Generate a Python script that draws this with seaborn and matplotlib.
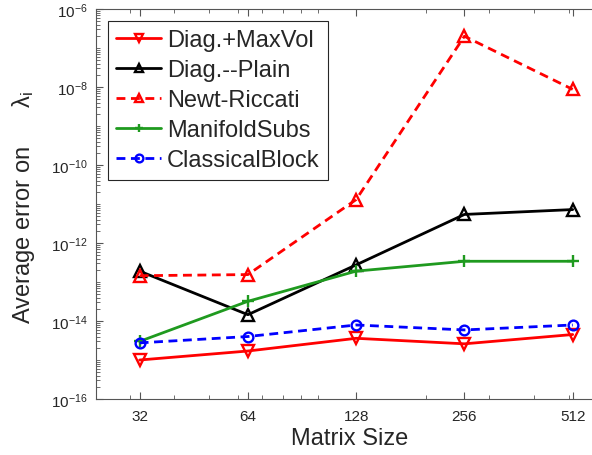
import matplotlib
matplotlib.use("Agg")
import numpy as np
import pandas as pd
import matplotlib.pyplot as plt
import matplotlib.ticker as mticker
import seaborn as sns

# data
sizes = [32, 64, 128, 256, 512]
maxvol = [1.0e-15, 1.7e-15, 3.6e-15, 2.6e-15, 4.5e-15]
plain = [1.9e-13, 1.45e-14, 2.75e-13, 5.4e-12, 7.2e-12]
riccati = [1.45e-13, 1.55e-13, 1.3e-11, 2.0e-7, 8.7e-9]
manifold = [3.0e-15, 3.2e-14, 1.9e-13, 3.4e-13, 3.4e-13]
classical = [2.75e-15, 4.0e-15, 7.9e-15, 5.9e-15, 7.9e-15]
labels = ["Diag.+MaxVol", "Diag.--Plain", "Newt-Riccati", "ManifoldSubs", "ClassicalBlock"]

sns.set_theme(style="ticks", rc={
    "xtick.direction": "in",
    "ytick.direction": "in",
    "xtick.top": True,
    "ytick.right": True,
    "axes.edgecolor": "#555555",
    "axes.linewidth": 0.8,
    "xtick.color": "#555555",
    "ytick.color": "#555555",
    "xtick.labelcolor": "#262626",
    "ytick.labelcolor": "#262626",
})
plt.rcParams["font.family"] = ["Liberation Sans", "DejaVu Sans"]
plt.rcParams["mathtext.fontset"] = "custom"
plt.rcParams["mathtext.rm"] = "Liberation Sans"
plt.rcParams["mathtext.it"] = "Liberation Sans:italic"

fig = plt.figure(figsize=(5.92, 4.56), dpi=100)
ax = fig.add_axes([96 / 592, 1 - 400 / 456, 1.02 - 96 / 592, 390 / 456])

styles = [
    (maxvol, "#ff0000", "-", "v", 8),
    (plain, "#000000", "-", "^", 8),
    (riccati, "#ff0000", "--", "^", 8),
    (manifold, "#1f9a1f", "-", "+", 8),
    (classical, "#0000ff", "--", "o", 7),
]
for (vals, col, ls, mk, ms), lab in zip(styles, labels):
    sns.lineplot(x=sizes, y=vals, ax=ax, color=col, linestyle=ls, marker=mk,
                 markersize=ms, markerfacecolor="none", markeredgecolor=col,
                 markeredgewidth=1.7, linewidth=2, label=lab)
    if ls == "--":
        ax.lines[-1].set_dashes((3.2, 2.0))

ax.set_xscale("log", base=2)
ax.set_yscale("log")
ax.set_xlim(24.2, 625)
ax.set_ylim(1e-16, 1e-6)

ax.xaxis.set_major_locator(mticker.FixedLocator(sizes))
ax.xaxis.set_major_formatter(mticker.FixedFormatter([str(s) for s in sizes]))
ax.xaxis.set_minor_locator(mticker.LogLocator(base=10, subs=np.arange(1, 10), numticks=100))
ax.xaxis.set_minor_formatter(mticker.NullFormatter())

ax.yaxis.set_major_locator(mticker.FixedLocator([10.0 ** e for e in range(-16, -5, 2)]))
ax.yaxis.set_major_formatter(mticker.LogFormatterSciNotation())
ax.yaxis.set_minor_locator(mticker.LogLocator(base=10, subs=np.arange(1, 10), numticks=100))
ax.yaxis.set_minor_formatter(mticker.NullFormatter())

ax.tick_params(which="major", length=5, width=0.8, labelsize=11, pad=6)
ax.tick_params(axis="x", which="major", pad=7)
ax.tick_params(which="minor", length=3, width=0.6)

ax.set_xlabel("Matrix Size", fontsize=17, color="#262626", labelpad=3)
ax.set_ylabel("Average error on      $\\mathrm{\\lambda_i}$", fontsize=17, color="#262626")
ax.yaxis.set_label_coords(-0.116, 0.495)

leg = ax.legend(loc="upper left", bbox_to_anchor=(108 / 592, 1 - 22 / 456),
                bbox_transform=fig.transFigure, borderaxespad=0, fontsize=17,
                frameon=True, fancybox=False, framealpha=1, edgecolor="#262626",
                handlelength=1.9, handletextpad=0.25, labelspacing=0.34, borderpad=0.35,
                markerscale=0.8)
leg.get_frame().set_linewidth(0.8)

fig.savefig("out.png", dpi=100)
